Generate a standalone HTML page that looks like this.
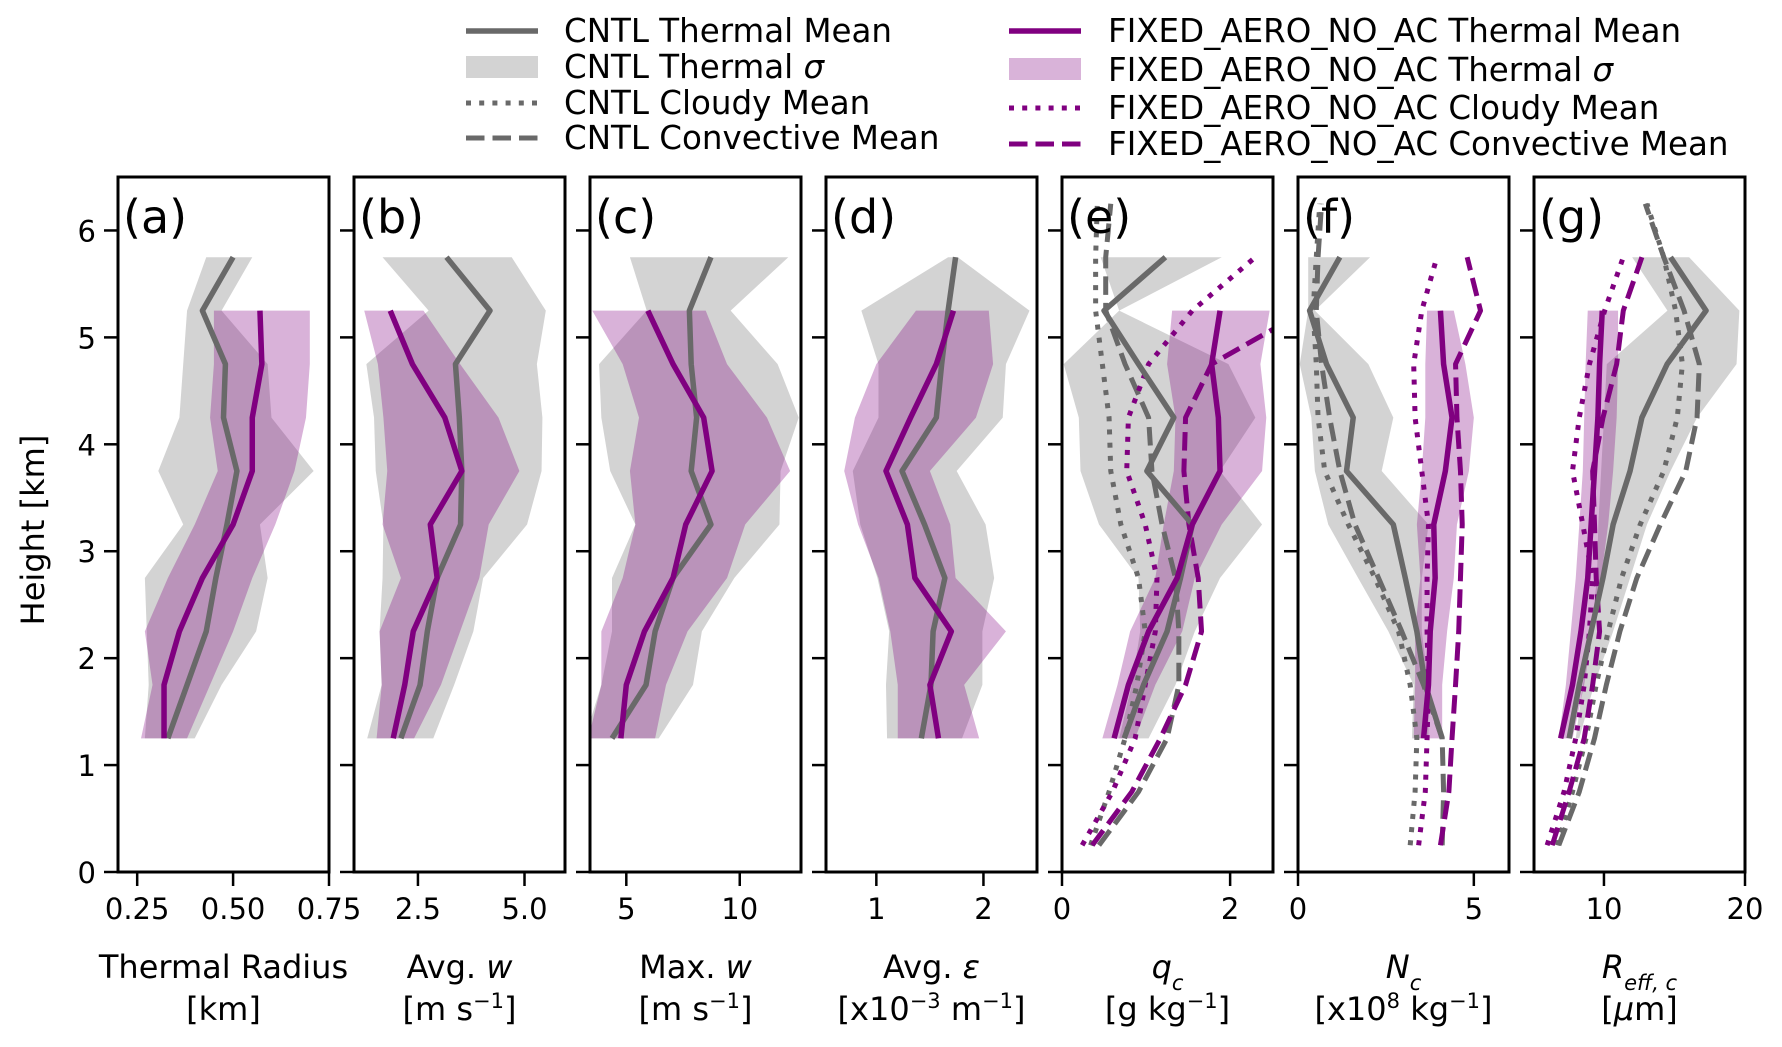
<!DOCTYPE html>
<html><head><meta charset="utf-8"><style>
html,body{margin:0;padding:0;background:#fff;}
svg{display:block;font-family:"DejaVu Sans","Liberation Sans",sans-serif;}
</style></head><body>
<svg id="chart" width="1782" height="1047" viewBox="0 0 1782 1047" xmlns="http://www.w3.org/2000/svg">
<g id="legend" font-size="32.5" fill="#000">
  <g><line x1="466" y1="31" x2="538" y2="31" stroke="#696969" stroke-width="5.5"/><text x="564" y="42">CNTL Thermal Mean</text></g>
  <g><rect x="466" y="56" width="72" height="22" fill="#d3d3d3"/><text x="564" y="78">CNTL Thermal <tspan font-style="italic">σ</tspan></text></g>
  <g><line x1="466" y1="103" x2="538" y2="103" stroke="#696969" stroke-width="5" stroke-dasharray="5,8.2"/><text x="564" y="114">CNTL Cloudy Mean</text></g>
  <g><line x1="466" y1="138" x2="538" y2="138" stroke="#696969" stroke-width="5" stroke-dasharray="18.5,8"/><text x="564" y="149">CNTL Convective Mean</text></g>
  <g><line x1="1009" y1="31" x2="1081" y2="31" stroke="#800080" stroke-width="5.5"/><text x="1108" y="42">FIXED_AERO_NO_AC Thermal Mean</text></g>
  <g><rect x="1009" y="58" width="72" height="22" fill="#d9b3d9"/><text x="1108" y="81">FIXED_AERO_NO_AC Thermal <tspan font-style="italic">σ</tspan></text></g>
  <g><line x1="1009" y1="108" x2="1081" y2="108" stroke="#800080" stroke-width="5" stroke-dasharray="5,8.2"/><text x="1108" y="119">FIXED_AERO_NO_AC Cloudy Mean</text></g>
  <g><line x1="1009" y1="144" x2="1081" y2="144" stroke="#800080" stroke-width="5" stroke-dasharray="18.5,8"/><text x="1108" y="155">FIXED_AERO_NO_AC Convective Mean</text></g>
</g>
<text font-size="32" text-anchor="middle" transform="translate(44,530) rotate(-90)">Height [km]</text>
<g id="panels"></g>
</svg>
<script>
// heights (km)
const heightsThermal=[1.25,1.75,2.25,2.75,3.25,3.75,4.25,4.75,5.25,5.75];
const heightsCloud=[0.25,0.75,1.25,1.75,2.25,2.75,3.25,3.75,4.25,4.75,5.25,5.75,6.25];
const yTicks=[0,1,2,3,4,5,6];
// (a) thermal radius
const aCntlMean=[0.33,0.38,0.43,0.455,0.484,0.51,0.475,0.48,0.42,0.50];
const aCntlLo=[0.27,0.28,0.275,0.27,0.37,0.305,0.36,0.37,0.38,0.43];
const aCntlHi=[0.40,0.47,0.56,0.59,0.57,0.71,0.60,0.59,0.47,0.55];
const aFixMean=[0.32,0.32,0.36,0.42,0.50,0.55,0.55,0.575,0.57];
const aFixLo=[0.26,0.29,0.27,0.33,0.40,0.46,0.44,0.45,0.45];
const aFixHi=[0.38,0.44,0.50,0.55,0.61,0.66,0.69,0.70,0.70];
// (b) avg w
const bCntlMean=[2.1,2.55,2.72,2.95,3.5,3.53,3.47,3.38,4.19,3.17];
const bCntlLo=[1.31,1.65,1.6,1.67,1.69,1.51,1.47,1.29,2.75,1.67];
const bCntlHi=[2.86,3.35,3.8,4.03,5.06,5.4,5.42,5.29,5.5,4.7];
const bFixMean=[1.92,2.19,2.39,2.95,2.79,3.53,3.13,2.37,1.85];
const bFixLo=[1.53,1.65,1.6,2.1,1.67,1.78,1.69,1.56,1.24];
const bFixHi=[2.41,3.04,3.49,3.94,4.16,4.88,4.39,3.49,2.63];
// (c) max w
const cCntlMean=[4.37,5.87,6.27,7.06,8.73,7.86,8.1,7.86,7.78,8.73];
const cCntlLo=[3.17,3.9,4.37,4.37,5.4,4.29,3.9,3.8,5.9,5.16];
const cCntlHi=[6.43,7.94,8.33,9.76,11.75,11.8,12.6,11.67,9.6,12.14];
const cFixMean=[4.76,5.0,5.8,7.06,7.62,8.78,8.41,7.06,5.95];
const cFixLo=[3.33,3.9,3.9,4.84,5.4,5.16,5.56,4.84,3.5];
const cFixHi=[6.27,6.75,7.7,9.44,10.24,12.22,11.2,9.44,8.5];
// (d) avg epsilon
const dCntlMean=[1.42,1.51,1.53,1.64,1.45,1.24,1.56,1.61,1.67,1.74];
const dCntlLo=[1.1,1.09,1.12,1.01,0.85,0.78,1.02,1.02,0.86,1.67];
const dCntlHi=[1.8,1.99,1.99,2.1,2.02,1.75,2.18,2.21,2.43,1.76];
const dFixMean=[1.58,1.5,1.7,1.36,1.29,1.09,1.32,1.56,1.72];
const dFixLo=[1.2,1.2,1.13,1.02,0.83,0.7,0.8,1.0,1.37];
const dFixHi=[1.96,1.82,2.21,1.74,1.69,1.5,1.93,2.09,2.05];
// (e) qc
const eCntlMean=[0.74,0.97,1.25,1.41,1.55,1.01,1.33,0.91,0.5,1.23];
const eCntlLo=[0.68,0.83,0.93,0.91,0.44,0.22,0.2,0.02,0.68,0.46];
const eCntlHi=[1.03,1.35,1.58,1.88,2.38,1.88,2.3,1.98,0.68,1.9];
const eFixMean=[0.62,0.79,1.03,1.37,1.55,1.88,1.86,1.78,1.88];
const eFixLo=[0.48,0.66,0.81,1.11,1.21,1.33,1.35,1.25,1.31];
const eFixHi=[0.87,1.11,1.43,1.58,1.9,2.38,2.43,2.36,2.47];
const eCntlCloudy=[0.34,0.56,0.75,0.89,0.99,0.91,0.70,0.58,0.56,0.48,0.4,0.4,0.42];
const eCntlConv=[0.44,0.91,1.25,1.39,1.39,1.35,1.19,1.07,1.03,0.75,0.52,0.52,0.58];
const eFixCloudy=[0.24,0.6,0.87,0.99,1.11,1.13,0.99,0.77,0.79,1.03,1.55,2.3];
const eFixConv=[0.36,0.83,1.17,1.47,1.66,1.62,1.51,1.45,1.47,1.78,2.9,3.2];
// (f) Nc
const fCntlMean=[4.1,3.62,3.38,3.05,2.71,1.38,1.57,0.81,0.33,1.19];
const fCntlLo=[3.24,3.29,2.57,1.71,0.86,0.48,0.38,0.05,0.29,0.29];
const fCntlHi=[3.71,3.71,3.52,3.52,3.71,2.38,2.71,2.0,0.48,2.05];
const fFixMean=[3.57,3.71,3.76,3.9,3.86,4.19,4.38,4.14,4.05];
const fFixLo=[3.29,3.33,3.33,3.48,3.38,3.52,3.62,3.62,3.67];
const fFixHi=[4.1,4.1,4.24,4.43,4.52,4.86,5.0,4.76,4.43];
const fCntlCloudy=[3.19,3.33,3.38,3.19,2.86,2.19,1.43,0.76,0.57,0.52,0.43,0.52,0.62];
const fCntlConv=[4.1,4.14,4.1,3.57,2.95,2.29,1.62,1.19,0.9,0.67,0.52,0.57,0.67];
const fFixCloudy=[3.43,3.62,3.67,3.71,3.67,3.67,3.71,3.52,3.33,3.29,3.52,3.95];
const fFixConv=[4.05,4.29,4.38,4.48,4.57,4.62,4.67,4.62,4.52,4.48,5.19,4.81];
// (g) Reff
const gCntlMean=[7.53,8.25,9.09,9.93,10.65,11.85,12.69,14.48,17.24,14.72];
const gCntlLo=[8.0,8.5,9.1,9.5,9.6,9.8,10.0,10.2,14.5,12.0];
const gCntlHi=[8.25,9.3,10.65,11.85,13.05,14.72,16.6,19.4,19.6,16.04];
const gFixMean=[6.93,7.77,8.37,8.85,9.09,9.33,9.57,9.69,9.88];
const gFixLo=[6.8,7.3,7.65,8.0,8.25,8.5,8.6,8.7,8.85];
const gFixHi=[7.77,8.6,9.2,9.8,10.3,10.65,10.9,11.0,11.0];
const gCntlCloudy=[6.7,7.77,8.73,9.45,10.3,11.25,12.57,14.24,15.2,15.56,15.08,14.24,13.05];
const gCntlConv=[6.8,8.25,9.33,10.17,11.13,12.33,14.0,15.8,16.6,16.76,15.68,14.24,12.93];
const gFixCloudy=[5.97,7.17,8.0,8.6,8.97,9.2,8.5,7.77,8.25,8.97,10.05,11.37];
const gFixConv=[6.33,7.53,8.6,9.2,9.69,9.45,9.33,9.2,9.93,10.9,11.37,12.69];
// tick values and labels
const aTicks=[0.25,0.5,0.75], aTickLabels=["0.25","0.50","0.75"];
const bTicks=[2.5,5.0], bTickLabels=["2.5","5.0"];
const cTicks=[5,10], cTickLabels=["5","10"];
const dTicks=[1,2], dTickLabels=["1","2"];
const eTicks=[0,2], eTickLabels=["0","2"];
const fTicks=[0,5], fTickLabels=["0","5"];
const gTicks=[10,20], gTickLabels=["10","20"];

const NS="http://www.w3.org/2000/svg";
const GRAY="#696969", PURP="#800080";
const TOP=177, BOT=872, W=211;
function yScale(h){return BOT-(BOT-TOP)*h/6.5;}
function mk(tag,attrs,parent){const e=document.createElementNS(NS,tag);for(const k in attrs)e.setAttribute(k,attrs[k]);parent.appendChild(e);return e;}
const SUP='baseline-shift="super" font-size="21"';
const panels=[
 {id:"a",xlim:[0.2,0.75],ticks:aTicks,labels:aTickLabels,cm:aCntlMean,cl:aCntlLo,ch:aCntlHi,fm:aFixMean,fl:aFixLo,fh:aFixHi,t1:'Thermal Radius',t2:'[km]'},
 {id:"b",xlim:[1.0,5.95],ticks:bTicks,labels:bTickLabels,cm:bCntlMean,cl:bCntlLo,ch:bCntlHi,fm:bFixMean,fl:bFixLo,fh:bFixHi,t1:'Avg. <tspan font-style="italic">w</tspan>',t2:'[m s<tspan '+SUP+'>−1</tspan>]'},
 {id:"c",xlim:[3.4,12.7],ticks:cTicks,labels:cTickLabels,cm:cCntlMean,cl:cCntlLo,ch:cCntlHi,fm:cFixMean,fl:cFixLo,fh:cFixHi,t1:'Max. <tspan font-style="italic">w</tspan>',t2:'[m s<tspan '+SUP+'>−1</tspan>]'},
 {id:"d",xlim:[0.53,2.5],ticks:dTicks,labels:dTickLabels,cm:dCntlMean,cl:dCntlLo,ch:dCntlHi,fm:dFixMean,fl:dFixLo,fh:dFixHi,t1:'Avg. <tspan font-style="italic">ε</tspan>',t2:'[x10<tspan '+SUP+'>−3</tspan> m<tspan '+SUP+'>−1</tspan>]'},
 {id:"e",xlim:[0,2.51],ticks:eTicks,labels:eTickLabels,cm:eCntlMean,cl:eCntlLo,ch:eCntlHi,fm:eFixMean,fl:eFixLo,fh:eFixHi,cc:eCntlCloudy,cv:eCntlConv,fc:eFixCloudy,fv:eFixConv,t1:'<tspan font-style="italic">q</tspan><tspan font-style="italic" font-size="21" baseline-shift="sub">c</tspan>',t2:'[g kg<tspan '+SUP+'>−1</tspan>]'},
 {id:"f",xlim:[0,6.0],ticks:fTicks,labels:fTickLabels,cm:fCntlMean,cl:fCntlLo,ch:fCntlHi,fm:fFixMean,fl:fFixLo,fh:fFixHi,cc:fCntlCloudy,cv:fCntlConv,fc:fFixCloudy,fv:fFixConv,t1:'<tspan font-style="italic">N</tspan><tspan font-style="italic" font-size="21" baseline-shift="sub">c</tspan>',t2:'[x10<tspan '+SUP+'>8</tspan> kg<tspan '+SUP+'>−1</tspan>]'},
 {id:"g",xlim:[5.04,20],ticks:gTicks,labels:gTickLabels,cm:gCntlMean,cl:gCntlLo,ch:gCntlHi,fm:gFixMean,fl:gFixLo,fh:gFixHi,cc:gCntlCloudy,cv:gCntlConv,fc:gFixCloudy,fv:gFixConv,t1:'<tspan font-style="italic">R</tspan><tspan font-style="italic" font-size="21" baseline-shift="sub">eff, c</tspan>',t2:'[<tspan font-style="italic">μ</tspan>m]'}
];

const root=document.getElementById("panels");
const defs=mk("defs",{},root);
panels.forEach((p,i)=>{
  const L=118+236*i;
  const xs=v=>L+W*(v-p.xlim[0])/(p.xlim[1]-p.xlim[0]);
  const g=mk("g",{},root);
  
  
  const cp=mk("clipPath",{id:"clip"+p.id},defs);
  mk("rect",{x:L,y:TOP,width:W,height:BOT-TOP},cp);
  const plot=mk("g",{"clip-path":"url(#clip"+p.id+")"},g);
  function band(lo,hi,fill,op,name){
    const hs=heightsThermal.slice(0,lo.length);
    const pts=hs.map((h,k)=>xs(lo[k])+","+yScale(h)).concat(hs.map((h,k)=>[xs(hi[k]),yScale(h)]).reverse().map(a=>a.join(",")));
    const e=mk("polygon",{points:pts.join(" "),fill:fill,"fill-opacity":op},plot);
    
    
  }
  function line(vals,hsAll,color,dash,wid,name){
    const hs=hsAll.slice(0,vals.length);
    const pts=hs.map((h,k)=>xs(vals[k])+","+yScale(h)).join(" ");
    const a={points:pts,fill:"none",stroke:color,"stroke-width":wid,"stroke-linejoin":"round"};
    if(dash)a["stroke-dasharray"]=dash;
    const e=mk("polyline",a,plot);
    
    
  }
  band(p.cl,p.ch,"#d3d3d3",1,"cntl-thermal-sigma-band");
  band(p.fl,p.fh,PURP,0.3,"fixed-thermal-sigma-band");
  if(p.cc){
    line(p.cc,heightsCloud,GRAY,"5,8.2",5,"cntl-cloudy-mean-line");
    line(p.cv,heightsCloud,GRAY,"18.5,8",5,"cntl-convective-mean-line");
    line(p.fc,heightsCloud,PURP,"5,8.2",5,"fixed-cloudy-mean-line");
    line(p.fv,heightsCloud,PURP,"18.5,8",5,"fixed-convective-mean-line");
  }
  line(p.cm,heightsThermal,GRAY,null,5.5,"cntl-thermal-mean-line");
  line(p.fm,heightsThermal,PURP,null,5.5,"fixed-thermal-mean-line");
  const fr=mk("rect",{x:L,y:TOP,width:W,height:BOT-TOP,fill:"none",stroke:"#000","stroke-width":3},g);
  
  
  yTicks.forEach(t=>{
    const tk=mk("line",{x1:L-14,x2:L,y1:yScale(t),y2:yScale(t),stroke:"#000","stroke-width":2.5},g);
    
    
    if(i===0){
      const tl=mk("text",{x:L-22,y:yScale(t)+11,"font-size":29,"text-anchor":"end"},g);
      tl.textContent=String(t);
      
      
    }
  });
  p.ticks.forEach((t,k)=>{
    const x=xs(t);
    const tk=mk("line",{x1:x,x2:x,y1:BOT,y2:BOT+14,stroke:"#000","stroke-width":2.5},g);
    
    
    const tl=mk("text",{x:x,y:BOT+47,"font-size":29,"text-anchor":"middle"},g);
    tl.textContent=p.labels[k];
    
    
  });
  const pl=mk("text",{x:L+5,y:TOP+56,"font-size":46},g);
  pl.textContent="("+p.id+")";
  
  
  const t1=mk("text",{x:L+W/2,y:978,"font-size":32,"text-anchor":"middle"},g);
  t1.innerHTML=p.t1;
  
  
  const t2=mk("text",{x:L+W/2,y:1020,"font-size":32,"text-anchor":"middle"},g);
  t2.innerHTML=p.t2;
  
  
});
</script>
</body></html>
